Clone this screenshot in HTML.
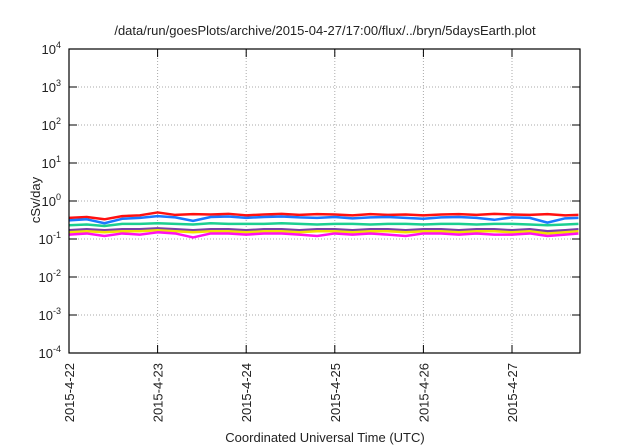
<!DOCTYPE html>
<html><head><meta charset="utf-8"><style>
body{margin:0;background:#fff}
svg{display:block;font-family:"Liberation Sans",sans-serif}
</style></head><body>
<svg id="chart" width="640" height="448">
<text x="325" y="35" text-anchor="middle" font-size="13" fill="#222">/data/run/goesPlots/archive/2015-04-27/17:00/flux/../bryn/5daysEarth.plot</text>
<g id="grid"></g><g id="series"></g><g id="axes"></g>
<text transform="translate(40,200) rotate(-90)" text-anchor="middle" font-size="13" fill="#222">cSv/day</text>
<text x="325" y="442" text-anchor="middle" font-size="13" fill="#222">Coordinated Universal Time (UTC)</text>
</svg>
<script>
const xTickLabels=["2015-4-22","2015-4-23","2015-4-24","2015-4-25","2015-4-26","2015-4-27"];
const yTickExps=[-4,-3,-2,-1,0,1,2,3,4];
const times=[0,0.2,0.4,0.6,0.8,1.0,1.2,1.4,1.6,1.8,2.0,2.2,2.4,2.6,2.8,3.0,3.2,3.4,3.6,3.8,4.0,4.2,4.4,4.6,4.8,5.0,5.2,5.4,5.6,5.75];
const red=[0.36,0.38,0.33,0.40,0.42,0.50,0.43,0.45,0.44,0.46,0.42,0.44,0.46,0.43,0.45,0.44,0.42,0.45,0.43,0.44,0.42,0.44,0.45,0.43,0.46,0.44,0.43,0.45,0.42,0.43];
const blue=[0.31,0.33,0.26,0.34,0.36,0.40,0.37,0.30,0.38,0.39,0.36,0.38,0.39,0.37,0.36,0.38,0.35,0.37,0.38,0.36,0.34,0.37,0.38,0.36,0.32,0.37,0.36,0.27,0.35,0.36];
const green=[0.23,0.24,0.22,0.25,0.25,0.26,0.25,0.24,0.26,0.25,0.25,0.25,0.26,0.25,0.24,0.25,0.25,0.24,0.25,0.25,0.24,0.25,0.25,0.24,0.25,0.25,0.24,0.23,0.24,0.25];
const purple=[0.17,0.18,0.17,0.18,0.18,0.19,0.18,0.17,0.18,0.18,0.17,0.18,0.18,0.17,0.18,0.18,0.17,0.18,0.18,0.17,0.18,0.18,0.17,0.18,0.18,0.17,0.18,0.16,0.17,0.18];
const yellow=[0.15,0.16,0.15,0.16,0.16,0.17,0.16,0.15,0.16,0.16,0.15,0.16,0.16,0.15,0.16,0.16,0.15,0.16,0.16,0.15,0.16,0.16,0.15,0.16,0.16,0.15,0.16,0.14,0.15,0.16];
const magenta=[0.13,0.14,0.12,0.14,0.13,0.15,0.14,0.11,0.14,0.14,0.13,0.14,0.14,0.13,0.12,0.14,0.13,0.14,0.13,0.12,0.14,0.14,0.13,0.14,0.13,0.13,0.14,0.12,0.13,0.14];
const seriesList=[[green,"#1ccf90","series-green"],[purple,"#7a3fa8","series-purple"],[yellow,"#f2e000","series-yellow"],[magenta,"#ff10f0","series-magenta"],[red,"#ff1010","series-red"],[blue,"#1a78ff","series-blue"]];
const L=69,R=580,T=49,B=353,dayW=88.6;
const xS=d=>L+d*dayW;
const yS=v=>T+(4-Math.log10(v))*(B-T)/8;
const NS="http://www.w3.org/2000/svg";
function mk(tag,attrs,parent){const e=document.createElementNS(NS,tag);for(const k in attrs)e.setAttribute(k,attrs[k]);parent.appendChild(e);return e;}
const grid=document.getElementById('grid'),axes=document.getElementById('axes'),ser=document.getElementById('series');
yTickExps.forEach(p=>{const y=yS(Math.pow(10,p));
 if(p>-4&&p<4){const g=mk('line',{x1:L,x2:R,y1:y,y2:y,stroke:"#aaa","stroke-dasharray":"1,2","stroke-width":1},grid);
 
 }
 mk('line',{x1:L,x2:L+8,y1:y,y2:y,stroke:"#000"},axes);mk('line',{x1:R,x2:R-8,y1:y,y2:y,stroke:"#000"},axes);
 const t=mk('text',{x:L-8,y:y+5,"text-anchor":"end","font-size":13,fill:"#222"},axes);
 
 
 t.innerHTML='10<tspan dy="-6" font-size="9">'+p+'</tspan>';});
xTickLabels.forEach((lab,i)=>{const x=xS(i);
 if(i>0){const g=mk('line',{x1:x,x2:x,y1:T,y2:B,stroke:"#aaa","stroke-dasharray":"1,2"},grid);
 
 }
 mk('line',{x1:x,x2:x,y1:B,y2:B-8,stroke:"#000"},axes);mk('line',{x1:x,x2:x,y1:T,y2:T+8,stroke:"#000"},axes);
 const t=mk('text',{transform:`translate(${x+5},${B+10}) rotate(-90)`,"text-anchor":"end","font-size":13,fill:"#222"},axes);
 
 
 t.textContent=lab;});
const fr=mk('rect',{x:L,y:T,width:R-L,height:B-T,fill:"none",stroke:"#000","stroke-width":1.2},axes);


seriesList.forEach(([vals,col,name])=>{
 const p=mk('polyline',{points:vals.map((v,i)=>xS(times[i])+','+yS(v)).join(' '),fill:"none",stroke:col,"stroke-width":2.5,"stroke-linejoin":"round"},ser);
 
 });
</script>
</body></html>
